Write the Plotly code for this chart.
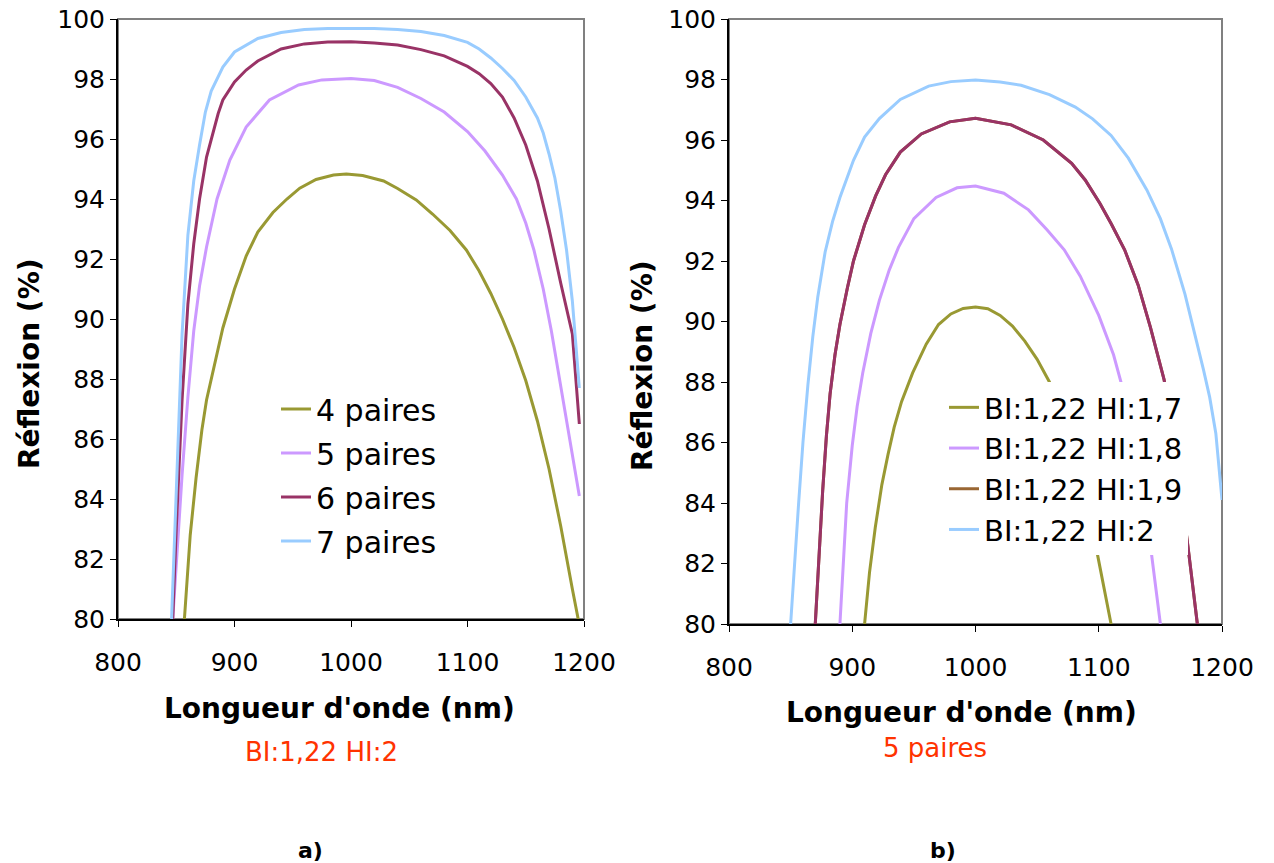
import plotly.graph_objects as go

# ---------------- Data: panel a) BI:1,22 HI:2, 4..7 pairs ----------------
wl_4p = [857, 862, 867, 872, 876, 880, 890, 900, 910, 920, 933, 945, 956, 970, 985, 996, 1010,
         1028, 1040, 1056, 1070, 1085, 1099, 1110, 1120, 1130, 1140, 1150, 1160, 1170, 1180, 1190, 1196]
r_4p = [80.0, 82.8, 84.7, 86.3, 87.3, 88.0, 89.7, 91.0, 92.1, 92.9, 93.55, 94.0, 94.36, 94.65, 94.8, 94.83, 94.78,
        94.6, 94.35, 93.97, 93.5, 92.95, 92.3, 91.6, 90.85, 90.0, 89.05, 87.95, 86.6, 85.0, 83.1, 81.0, 79.8]

wl_5p = [847, 850, 855, 860, 865, 870, 876, 885, 896, 910, 930, 955, 975, 1000, 1020, 1040, 1060,
         1080, 1100, 1115, 1130, 1142, 1150, 1157, 1165, 1172, 1180, 1188, 1196]
r_5p = [80.0, 81.8, 84.8, 87.4, 89.6, 91.1, 92.4, 94.0, 95.3, 96.4, 97.3, 97.8, 97.97, 98.02, 97.95, 97.72, 97.35,
        96.9, 96.25, 95.6, 94.8, 94.0, 93.2, 92.3, 91.0, 89.6, 87.8, 86.0, 84.1]

wl_6p = [847, 850, 855, 860, 865, 870, 876, 880, 886, 890, 900, 910, 920, 940, 960, 980, 1000, 1020,
         1040, 1060, 1080, 1100, 1110, 1120, 1130, 1140, 1150, 1160, 1170, 1180, 1190, 1196]
r_6p = [80.0, 83.0, 87.3, 90.5, 92.5, 94.0, 95.4, 96.0, 96.85, 97.3, 97.9, 98.3, 98.6, 99.0, 99.17, 99.23, 99.24, 99.2,
        99.13, 98.98, 98.77, 98.42, 98.18, 97.85, 97.4, 96.7, 95.8, 94.6, 93.0, 91.2, 89.5, 86.5]

wl_7p = [846, 850, 855, 860, 865, 870, 875, 880, 890, 900, 920, 940, 960, 980, 1000, 1020, 1040, 1060,
         1080, 1100, 1110, 1120, 1130, 1140, 1150, 1160, 1165, 1170, 1175, 1180, 1185, 1190, 1196]
r_7p = [80.0, 84.5, 89.5, 92.8, 94.6, 95.8, 96.9, 97.6, 98.4, 98.9, 99.35, 99.55, 99.65, 99.68, 99.69, 99.68, 99.65, 99.58,
        99.45, 99.22, 99.0, 98.7, 98.35, 97.95, 97.4, 96.7, 96.2, 95.5, 94.7, 93.6, 92.3, 90.6, 87.7]

# ---------------- Data: panel b) 5 pairs, BI:1,22, HI 1.7..2 ----------------
wl_h17 = [910, 914, 918.7, 924, 929, 934, 940, 949, 960, 970, 980, 990, 1000, 1010, 1020, 1030,
          1040, 1050, 1060, 1070, 1080, 1090, 1098, 1104, 1110]
r_h17 = [80.0, 81.7, 83.2, 84.6, 85.6, 86.5, 87.35, 88.3, 89.25, 89.9, 90.25, 90.43, 90.48, 90.42, 90.2, 89.85,
         89.35, 88.75, 88.0, 87.1, 85.9, 84.3, 82.5, 81.3, 80.0]

wl_h18 = [890, 893, 895.5, 900, 904, 908.5, 915, 922, 930, 937.5, 950, 968, 985, 1000, 1023, 1043,
          1058, 1072, 1085, 1100, 1112, 1122, 1130, 1136, 1142, 1150]
r_h18 = [80.0, 82.2, 84.0, 85.9, 87.2, 88.3, 89.6, 90.7, 91.7, 92.45, 93.4, 94.1, 94.42, 94.48, 94.24, 93.69,
         93.03, 92.37, 91.5, 90.2, 88.9, 87.4, 85.9, 84.5, 82.6, 80.0]

wl_h19 = [870, 873, 876, 879, 882, 886, 890, 896, 901, 910, 919, 927, 939, 956, 979, 1000, 1029,
          1055, 1078, 1089, 1101, 1110, 1121, 1132, 1142, 1153, 1163, 1173, 1180]
r_h19 = [80.0, 82.3, 84.4, 86.2, 87.6, 88.9, 89.9, 91.1, 92.0, 93.2, 94.15, 94.85, 95.6, 96.2, 96.6, 96.72, 96.5,
         96.0, 95.23, 94.68, 93.9, 93.24, 92.37, 91.2, 89.8, 88.08, 85.6, 82.36, 80.0]

wl_h20 = [850, 853, 856.5, 860, 864, 868, 872, 878, 884, 890, 901, 910, 922, 939, 962, 980, 1000, 1020,
          1037, 1060, 1081, 1095, 1110, 1124, 1139, 1150, 1159, 1170, 1178, 1185, 1190, 1195, 1200]
r_h20 = [80.0, 82.0, 84.0, 86.0, 87.9, 89.5, 90.8, 92.3, 93.3, 94.1, 95.33, 96.1, 96.71, 97.34, 97.78, 97.93, 97.98, 97.92,
         97.81, 97.5, 97.09, 96.7, 96.15, 95.4, 94.35, 93.4, 92.4, 90.9, 89.6, 88.4, 87.5, 86.3, 84.1]

x_ticks = [800, 900, 1000, 1100, 1200]
y_ticks = [80, 82, 84, 86, 88, 90, 92, 94, 96, 98, 100]

labels_a = ["4 paires", "5 paires", "6 paires", "7 paires"]
labels_b = ["BI:1,22 HI:1,7", "BI:1,22 HI:1,8", "BI:1,22 HI:1,9", "BI:1,22 HI:2"]

OLIVE = "#999933"
LAVENDER = "#CC99FF"
MAROON = "#993366"
BROWN = "#996633"
LIGHTBLUE = "#99CCFF"

W, H = 1274, 863
FONT = "DejaVu Sans"

fig = go.Figure()

series_a = [(wl_4p, r_4p, OLIVE), (wl_5p, r_5p, LAVENDER), (wl_6p, r_6p, MAROON), (wl_7p, r_7p, LIGHTBLUE)]
for (xs, ys, c), name in zip(series_a, labels_a):
    fig.add_trace(go.Scatter(x=xs, y=ys, mode="lines", name=name, line=dict(color=c, width=3),
                             xaxis="x", yaxis="y", legend="legend", legendgroup=name))

series_b = [(wl_h17, r_h17, OLIVE), (wl_h18, r_h18, LAVENDER), (wl_h19, r_h19, BROWN), (wl_h20, r_h20, LIGHTBLUE)]
for (xs, ys, c), name in zip(series_b, labels_b):
    fig.add_trace(go.Scatter(x=xs, y=ys, mode="lines", name=name, line=dict(color=c, width=3),
                             xaxis="x2", yaxis="y2", legend="legend2", legendgroup=name))
# HI:1,9 curve as it appears drawn (maroon) on top of its brown legend colour
fig.add_trace(go.Scatter(x=wl_h19, y=r_h19, mode="lines", name=labels_b[2], line=dict(color=MAROON, width=3),
                         xaxis="x2", yaxis="y2", showlegend=False))


def px_x(p):
    return p / W


def px_y(p):
    return 1 - p / H


axis_common = dict(showgrid=False, zeroline=False, showline=True, linecolor="#000000", linewidth=2,
                   ticks="outside", ticklen=6, tickwidth=1, tickcolor="#000000",
                   tickfont=dict(family=FONT, size=25, color="#000000"))

fig.update_layout(
    width=W, height=H,
    margin=dict(l=0, r=0, t=0, b=0, autoexpand=False),
    paper_bgcolor="white", plot_bgcolor="white",
    showlegend=True,
    xaxis=dict(domain=[px_x(118), px_x(584)], range=[800, 1200], tickvals=x_ticks, anchor="y",
               ticklabelstandoff=14, **axis_common),
    yaxis=dict(domain=[px_y(619), px_y(19)], range=[80, 100], tickvals=y_ticks, anchor="x", **axis_common),
    xaxis2=dict(domain=[px_x(729), px_x(1222)], range=[800, 1200], tickvals=x_ticks, anchor="y2",
                ticklabelstandoff=14, **axis_common),
    yaxis2=dict(domain=[px_y(624), px_y(19)], range=[80, 100], tickvals=y_ticks, anchor="x2", **axis_common),
    legend=dict(x=px_x(276), y=px_y(383), xanchor="left", yanchor="top", bgcolor="rgba(255,255,255,1)",
                font=dict(family=FONT, size=30, color="#000000"), tracegroupgap=2, traceorder="grouped",
                itemwidth=30),
    legend2=dict(x=px_x(944), y=px_y(382), xanchor="left", yanchor="top", bgcolor="rgba(255,255,255,1)",
                 font=dict(family=FONT, size=29, color="#000000"), tracegroupgap=0, traceorder="grouped",
                 itemwidth=30),
)

# grey frame (top/right borders) behind the black axes
for xr, yr in (("x domain", "y domain"), ("x2 domain", "y2 domain")):
    fig.add_shape(type="rect", xref=xr, yref=yr, x0=0, x1=1, y0=0, y1=1,
                  line=dict(color="#808080", width=2), layer="below")

ann = []
ann.append(dict(text="<b>Longueur d'onde (nm)</b>", x=px_x(339), y=px_y(708), font=dict(size=28)))
ann.append(dict(text="<b>Longueur d'onde (nm)</b>", x=px_x(962), y=px_y(712), font=dict(size=28)))
ann.append(dict(text="<b>Réflexion (%)</b>", x=px_x(29), y=px_y(364), font=dict(size=28), textangle=-90))
ann.append(dict(text="<b>Réflexion (%)</b>", x=px_x(642), y=px_y(366), font=dict(size=28), textangle=-90))
ann.append(dict(text="BI:1,22 HI:2", x=px_x(321), y=px_y(752), font=dict(size=26, color="#FF3300")))
ann.append(dict(text="5 paires", x=px_x(935), y=px_y(748), font=dict(size=26, color="#FF3300")))
ann.append(dict(text="<b>a)</b>", x=px_x(310), y=px_y(850), font=dict(size=22)))
ann.append(dict(text="<b>b)</b>", x=px_x(943), y=px_y(850), font=dict(size=22)))
for a in ann:
    f = dict(family=FONT, color="#000000")
    f.update(a.pop("font"))
    fig.add_annotation(xref="paper", yref="paper", showarrow=False, xanchor="center", yanchor="middle",
                       font=f, **a)

fig.write_html("out.html")
